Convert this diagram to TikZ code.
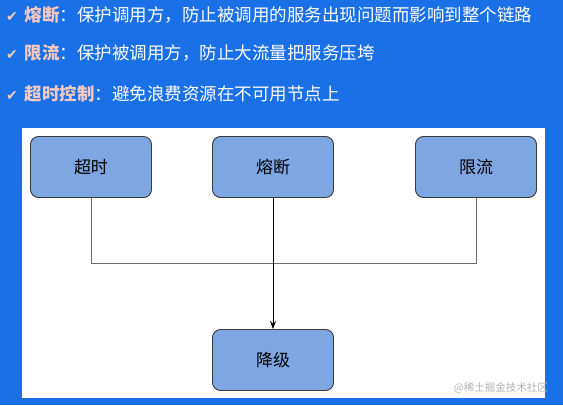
\documentclass[tikz,border=0pt]{standalone}
\usepackage{fontspec}
\setmainfont{Noto Sans CJK SC}
\newfontfamily\cjk{Noto Sans CJK SC}
\newfontfamily\symb{DejaVu Sans}
\usetikzlibrary{arrows.meta}
\definecolor{bgblue}{HTML}{1A70E6}
\definecolor{boxfill}{HTML}{7EA6E0}
\definecolor{boxline}{HTML}{36393D}
\definecolor{hl}{HTML}{F5C9C2}
\definecolor{chk}{HTML}{F2CDB5}
\tikzset{
  blk/.style={draw=boxline, line width=0.9pt, fill=boxfill, rounded corners=8pt, minimum width=121pt, minimum height=61pt, font=\cjk\fontsize{17}{17}\selectfont, text=black, inner sep=0pt},
  bullet/.style={anchor=west, text=white, font=\cjk\fontsize{17.5}{17.5}\selectfont, inner sep=0pt},
  link/.style={draw=gray!85!black, line width=0.8pt},
  mainlink/.style={draw=black, line width=0.8pt}
}
\newcommand{\chkmark}{{\symb\fontsize{14}{14}\selectfont\color{chk}✔}}
\newcommand{\hlword}[1]{{\color{hl}\bfseries #1}}
\begin{document}
\begin{tikzpicture}[x=1pt,y=-1pt]
\fill[bgblue] (0,0) rectangle (563,405);
\useasboundingbox (0,0) rectangle (563,405);
\fill[white] (22,128) rectangle (545,398);
\node[bullet] (l1) at (6,15) {\chkmark\hspace{7pt}\hlword{熔断}：保护调用方，防止被调用的服务出现问题而影响到整个链路};
\node[bullet] (l2) at (6,53) {\chkmark\hspace{7pt}\hlword{限流}：保护被调用方，防止大流量把服务压垮};
\node[bullet] (l3) at (6,94) {\chkmark\hspace{7pt}\hlword{超时控制}：避免浪费资源在不可用节点上};
\node[blk] (cs) at (91,167) {超时};
\node[blk] (rd) at (273,167) {熔断};
\node[blk] (xl) at (476,167) {限流};
\node[blk] (jj) at (273,360) {降级};
\coordinate (j1) at (91,263);
\coordinate (j2) at (476,263);
\draw[link] (cs.south) -- (j1) -- (j2) -- (xl.south);
\draw[mainlink, -{Stealth[length=8pt,width=6pt]}] (rd.south) -- (jj.north);
\node[anchor=east, text=black!30, font=\cjk\fontsize{10.5}{10.5}\selectfont, inner sep=0pt] (wm) at (548,388) {@稀土掘金技术社区};
\end{tikzpicture}
\end{document}
